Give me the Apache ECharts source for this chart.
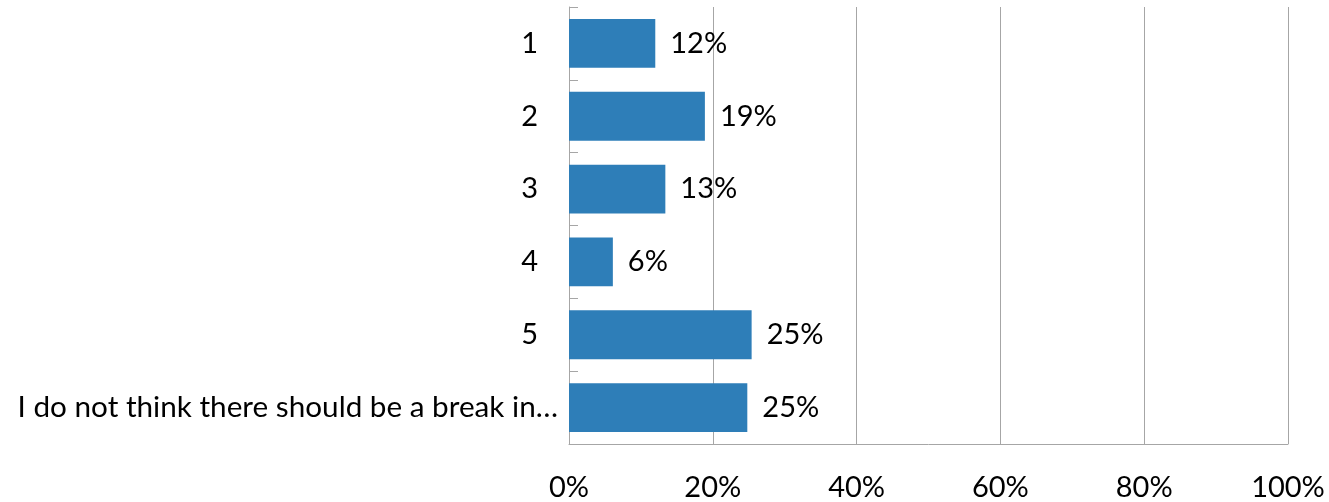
<!DOCTYPE html>
<html>
<head>
<meta charset="utf-8">
<script src="https://cdn.jsdelivr.net/npm/echarts@6/dist/echarts.min.js"></script>
<style>
  html, body { margin: 0; padding: 0; background: #fff; }
  #chart { width: 1329px; height: 502px; }
</style>
</head>
<body>
<div id="chart"></div>
<script>
// categories top to bottom
var categories = ['1', '2', '3', '4', '5', 'I do not think there should be a break in\u2026'];
// share of respondents, percent
var shares = [12.0, 18.9, 13.4, 6.1, 25.4, 24.8];
var xTicks = [0, 20, 40, 60, 80, 100];

var font = 'Lato';
var gray = '#A6A6A6';

var myChart = echarts.init(document.getElementById('chart'));
myChart.setOption({
  animation: false,
  grid: { left: 569, right: 41, top: 7, bottom: 58 },
  xAxis: {
    type: 'value',
    min: xTicks[0],
    max: xTicks[xTicks.length - 1],
    interval: 20,
    axisLine: { show: true, lineStyle: { color: gray, width: 1 } },
    axisTick: { show: false },
    splitLine: { show: true, lineStyle: { color: gray, width: 1 } },
    axisLabel: {
      color: '#000',
      fontFamily: font,
      fontSize: 29,
      margin: 29,
      formatter: function (v) { return v + '%'; }
    }
  },
  yAxis: {
    type: 'category',
    inverse: true,
    data: categories,
    axisLine: { show: true, lineStyle: { color: gray, width: 1 } },
    axisTick: { show: true, inside: true, length: 9, lineStyle: { color: gray } },
    splitLine: { show: false },
    axisLabel: {
      color: '#000',
      fontFamily: font,
      fontSize: 29.7,
      margin: 11,
      formatter: function (v) {
        return v.length < 3 ? '{s|' + v + '}' : v;
      },
      rich: {
        s: { fontFamily: font, fontSize: 29, color: '#000', padding: [0, 20, 0, 0] }
      }
    }
  },
  series: [{
    type: 'bar',
    data: shares,
    barCategoryGap: '33%',
    itemStyle: { color: '#2E7EB8' },
    label: {
      show: true,
      position: 'right',
      distance: 15,
      color: '#000',
      fontFamily: font,
      fontSize: 29,
      formatter: function (p) { return Math.round(p.value) + '%'; }
    }
  }]
});
window.addEventListener('resize', function () { myChart.resize(); });
</script>
</body>
</html>
